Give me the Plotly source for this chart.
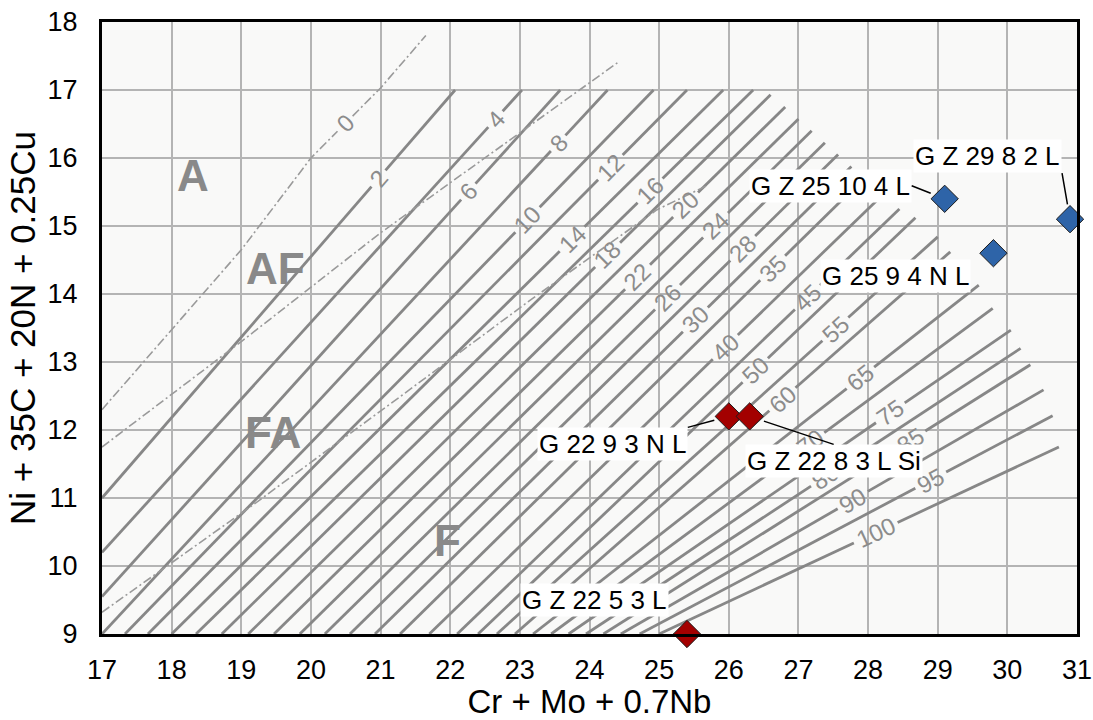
import math
import plotly.graph_objects as go

# ---------------- data ----------------
x_ticks = list(range(17, 32))
y_ticks = list(range(9, 19))

fn_values = [2, 4, 6, 8, 10, 12, 14, 16, 18, 20, 22, 24, 26, 28, 30,
             35, 40, 45, 50, 55, 60, 65, 70, 75, 80, 85, 90, 95, 100]
fn_start_x = [17.0, 17.0, 17.0, 17.0, 17.33, 17.66, 18.0, 18.35, 18.72, 19.1, 19.47, 19.84, 20.2, 20.56, 20.92,
              21.28, 21.7, 22.1, 22.4, 22.67, 22.93, 23.19, 23.45, 23.7, 23.95, 24.2, 24.45, 24.72, 25.0]
fn_start_y = [11.0, 10.2, 9.55, 9.0, 9.0, 9.0, 9.0, 9.0, 9.0, 9.0, 9.0, 9.0, 9.0, 9.0, 9.0,
              9.0, 9.0, 9.0, 9.0, 9.0, 9.0, 9.0, 9.0, 9.0, 9.0, 9.0, 9.0, 9.0, 9.0]
fn_end_x = [22.07, 23.03, 23.58, 24.26, 24.92, 25.40, 25.92, 26.35, 26.60, 26.81, 27.0, 27.19, 27.38, 27.57, 27.76,
            27.94, 28.2, 28.45, 28.68, 29.0, 29.18, 29.59, 29.79, 30.05, 30.19, 30.33, 30.52, 30.65, 30.74]
fn_end_y = [17.0, 17.0, 17.0, 17.0, 17.0, 17.0, 17.0, 17.0, 16.93, 16.75, 16.575, 16.4, 16.225, 16.05, 15.875,
            15.7, 15.45, 15.25, 15.12, 14.84, 14.62, 14.13, 13.79, 13.47, 13.2, 12.96, 12.59, 12.21, 11.75]
fn_label_x = [20.97, 22.65, 22.26, 23.55, 23.11, 24.30, 23.75, 24.87, 24.26, 25.38, 24.69, 25.81, 25.12, 26.20, 25.52,
              26.63, 25.95, 27.13, 26.38, 27.53, 26.77, 27.89, 27.17, 28.32, 27.39, 28.61, 27.78, 28.90, 28.11]

# solidification-mode boundaries (dash-dot)
zero_x = [17.0, 19.0, 20.0, 21.0, 21.65]
zero_y = [12.3, 14.65, 16.0, 17.03, 17.8]
zero_label_x = 20.49
af_fa_x = [17.0, 19.0, 21.0, 22.9, 24.4]
af_fa_y = [11.75, 13.3, 14.9, 16.3, 17.4]
fa_f_x = [17.0, 19.17, 21.28, 23.15, 24.97, 25.7]
fa_f_y = [9.32, 10.9, 12.49, 13.91, 15.24, 15.6]

region_text = ["A", "AF", "FA", "F"]
region_x = [18.31, 19.49, 19.46, 21.96]
region_y = [15.75, 14.38, 11.96, 10.38]

blue_names = ["G Z 25 10 4 L", "G Z 29 8 2 L", "G 25 9 4 N L"]
blue_x = [29.1, 30.9, 29.8]
blue_y = [15.4, 15.1, 14.6]
red_names = ["G 22 9 3 N L", "G Z 22 8 3 L Si", "G Z 22 5 3 L"]
red_x = [26.0, 26.3, 25.4]
red_y = [12.2, 12.2, 9.0]

# ---------------- layout constants ----------------
W, H = 1093, 720
ML, MR, MT, MB = 102, 16, 22, 86
PX = (W - ML - MR) / (31 - 17)
PY = (H - MT - MB) / (18 - 9)
LINE_COL = "#878787"
LBL_COL = "#8c8c8c"
LBL_FS = 24
BG = "#f9f9f8"
FONT = "Arial, Liberation Sans, sans-serif"

fig = go.Figure()
annotations = []


def split_line(xs, ys, lx, text):
    """Polyline coords with a gap at the label position, plus label geometry."""
    for i in range(len(xs) - 1):
        if xs[i] <= lx <= xs[i + 1]:
            break
    x0, y0, x1, y1 = xs[i], ys[i], xs[i + 1], ys[i + 1]
    t = (lx - x0) / (x1 - x0)
    ly = y0 + t * (y1 - y0)
    dxp, dyp = (x1 - x0) * PX, (y1 - y0) * PY
    L = math.hypot(dxp, dyp)
    g = len(text) * 0.56 * LBL_FS / 2 + 4
    dt = g / L
    ta, tb = max(t - dt, 0), min(t + dt, 1)
    ax_, ay_ = x0 + ta * (x1 - x0), y0 + ta * (y1 - y0)
    bx_, by_ = x0 + tb * (x1 - x0), y0 + tb * (y1 - y0)
    px1 = xs[:i + 1] + [ax_]
    py1 = ys[:i + 1] + [ay_]
    px2 = [bx_] + xs[i + 1:]
    py2 = [by_] + ys[i + 1:]
    ang = math.degrees(math.atan2(dyp, dxp))
    return px1 + [None] + px2, py1 + [None] + py2, lx, ly, ang


# iso-ferrite lines
lx_all, ly_all = [], []
for fn, x0, y0, x1, y1, lx in zip(fn_values, fn_start_x, fn_start_y, fn_end_x, fn_end_y, fn_label_x):
    xs, ys, tx, ty, ang = split_line([x0, x1], [y0, y1], lx, str(fn))
    lx_all += xs + [None]
    ly_all += ys + [None]
    annotations.append(dict(x=tx, y=ty, text=str(fn), showarrow=False, textangle=-ang,
                            font=dict(family=FONT, size=LBL_FS, color=LBL_COL)))

fig.add_trace(go.Scatter(x=lx_all, y=ly_all, mode="lines", line=dict(color=LINE_COL, width=2.8),
                         hoverinfo="skip", showlegend=False))

# boundary lines
zx, zy, tx, ty, ang = split_line(zero_x, zero_y, zero_label_x, "0")
annotations.append(dict(x=tx, y=ty, text="0", showarrow=False, textangle=-ang,
                        font=dict(family=FONT, size=LBL_FS, color=LBL_COL)))
bx = zx + [None] + af_fa_x + [None] + fa_f_x
by = zy + [None] + af_fa_y + [None] + fa_f_y
fig.add_trace(go.Scatter(x=bx, y=by, mode="lines",
                         line=dict(color="#9a9a9a", width=1.6, dash="9px,3px,2px,3px"),
                         hoverinfo="skip", showlegend=False))

# region labels
for t, x, y in zip(region_text, region_x, region_y):
    annotations.append(dict(x=x, y=y, text="<b>%s</b>" % t, showarrow=False,
                            font=dict(family=FONT, size=44, color="#898989")))

# data points
fig.add_trace(go.Scatter(x=blue_x, y=blue_y, mode="markers", cliponaxis=False, showlegend=False,
                         marker=dict(symbol="diamond", size=21, color="#2e64a8",
                                     line=dict(color="#1b1b1b", width=1))))
fig.add_trace(go.Scatter(x=red_x, y=red_y, mode="markers", cliponaxis=False, showlegend=False,
                         marker=dict(symbol="diamond", size=21, color="#a30000",
                                     line=dict(color="#1b1b1b", width=1))))

label_style = {
    "G Z 25 10 4 L": dict(showarrow=True, ax=-33, ay=-13, xanchor="right", yanchor="middle"),
    "G Z 29 8 2 L": dict(showarrow=True, ax=-8, ay=-46, xanchor="right", yanchor="bottom"),
    "G 25 9 4 N L": dict(showarrow=False, xshift=-98, yshift=-23),
    "G 22 9 3 N L": dict(showarrow=True, ax=-41, ay=11, xanchor="right", yanchor="top"),
    "G Z 22 8 3 L Si": dict(showarrow=True, ax=84, ay=28, xanchor="center", yanchor="top"),
    "G Z 22 5 3 L": dict(showarrow=False, xshift=-93, yshift=34),
}
for name, x, y in list(zip(blue_names, blue_x, blue_y)) + list(zip(red_names, red_x, red_y)):
    st = label_style[name]
    annotations.append(dict(x=x, y=y, text=name, bgcolor="white", borderpad=1,
                            arrowhead=0, arrowwidth=1.5, arrowcolor="black", standoff=15,
                            font=dict(family=FONT, size=26, color="black"), **st))

axis_common = dict(showline=True, linecolor="black", linewidth=3, mirror=True, ticks="",
                   showgrid=True, gridcolor="#b4b4b4", gridwidth=2, zeroline=False,
                   automargin=False,
                   tickfont=dict(family=FONT, size=27, color="black"))
fig.update_layout(
    width=W, height=H,
    margin=dict(l=ML, r=MR, t=MT, b=MB),
    paper_bgcolor="white", plot_bgcolor=BG,
    xaxis=dict(range=[17, 31], tickvals=x_ticks, ticklabelstandoff=10,
               title=dict(text="Cr + Mo + 0.7Nb", standoff=9,
                          font=dict(family=FONT, size=33, color="black")),
               **axis_common),
    yaxis=dict(range=[9, 18], tickvals=y_ticks, ticklabelstandoff=16,
               title=dict(text="Ni + 35C + 20N + 0.25Cu", standoff=2,
                          font=dict(family=FONT, size=35, color="black")),
               **axis_common),
    annotations=annotations,
)

fig.write_html("out.html", config={"displayModeBar": False})
